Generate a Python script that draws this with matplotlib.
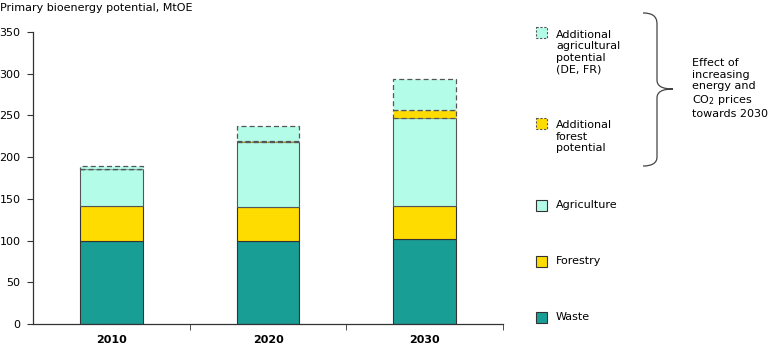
import numpy as np
import matplotlib

matplotlib.use("Agg")
import matplotlib.pyplot as plt
from matplotlib.patches import Rectangle, PathPatch
from matplotlib.path import Path

plt.rcParams["font.family"] = ["DejaVu Sans"]

years = ["2010", "2020", "2030"]
waste = [99, 99, 102]
forestry = [43, 41, 39]
agriculture = [43.5, 78.5, 106]
add_forest = [0, 1, 9.5]
add_agri = [4, 18, 37]

yticks = [0, 50, 100, 150, 200, 250, 300, 350]
ylabel = "Primary bioenergy potential, MtOE"
note = "Effect of\nincreasing\nenergy and\nCO$_2$ prices\ntowards 2030"

c_waste = "#199e95"
c_forest = "#ffdc00"
c_agri = "#b3fce8"
edge = "#333333"
dash_edge = "#555555"

fig = plt.figure(figsize=(7.68, 3.44), dpi=100)
W, H = 768, 344
ax = fig.add_axes([33 / W, 1 - 324 / H, (503 - 33) / W, (324 - 32) / H])

x = np.arange(len(years))
bw = 0.4
b0 = np.zeros(len(years))
ax.bar(x, waste, bw, bottom=b0, color=c_waste, edgecolor=edge, lw=0.8)
b1 = b0 + np.array(waste)
ax.bar(x, forestry, bw, bottom=b1, color=c_forest, edgecolor=edge, lw=0.8)
b2 = b1 + np.array(forestry)
ax.bar(x, agriculture, bw, bottom=b2, color=c_agri, edgecolor="#555555", lw=0.8)
b3 = b2 + np.array(agriculture)
ax.bar(x, add_forest, bw, bottom=b3, color=c_forest, edgecolor=dash_edge,
       lw=0.9, linestyle=(0, (4, 2.5)))
b4 = b3 + np.array(add_forest)
ax.bar(x, add_agri, bw, bottom=b4, color=c_agri, edgecolor=dash_edge,
       lw=0.9, linestyle=(0, (4, 2.5)))

ax.set_xlim(-0.5, 2.5)
ax.set_ylim(0, 350)
ax.set_yticks(yticks)
ax.set_xticks(x)
ax.set_xticklabels(years, fontsize=8, fontweight="bold")
ax.set_xticks([0.5, 1.5, 2.5], minor=True)
ax.tick_params(axis="x", which="major", length=0, pad=8)
ax.tick_params(axis="x", which="minor", length=4, color="#333333", direction="out")
ax.tick_params(axis="y", length=4, color="#333333", labelsize=8, pad=5)
for s in ["top", "right"]:
    ax.spines[s].set_visible(False)
for s in ["left", "bottom"]:
    ax.spines[s].set_color("#333333")
    ax.spines[s].set_linewidth(0.9)

# overlay in pixel coordinates for title, legend and brace
ov = fig.add_axes([0, 0, 1, 1], facecolor="none")
ov.set_xlim(0, W)
ov.set_ylim(H, 0)
ov.axis("off")

ov.text(0, 8, ylabel, fontsize=8, va="center", ha="left")

leg = [
    (32, 52, c_agri, True, "Additional\nagricultural\npotential\n(DE, FR)"),
    (123, 136.5, c_forest, True, "Additional\nforest\npotential"),
    (205, 205, c_agri, False, "Agriculture"),
    (261, 261, c_forest, False, "Forestry"),
    (317, 317, c_waste, False, "Waste"),
]
for py, ty, col, dashed, lab in leg:
    ov.add_patch(Rectangle((536, py - 5.5), 11, 11, facecolor=col,
                           edgecolor=dash_edge if dashed else edge, lw=0.8,
                           linestyle=(0, (2, 1.5)) if dashed else "-"))
    ov.text(556, ty, lab, fontsize=8, va="center", ha="left", linespacing=1.2)

# curly brace
verts = [
    (643, 13), (652, 13), (657, 16), (657, 24),
    (657, 80),
    (657, 86), (662, 89), (673, 89),
    (662, 89), (657, 92), (657, 98),
    (657, 157),
    (657, 163), (652, 166), (643, 166),
]
codes = [Path.MOVETO, Path.CURVE4, Path.CURVE4, Path.CURVE4,
         Path.LINETO,
         Path.CURVE4, Path.CURVE4, Path.CURVE4,
         Path.CURVE4, Path.CURVE4, Path.CURVE4,
         Path.LINETO,
         Path.CURVE4, Path.CURVE4, Path.CURVE4]
ov.add_patch(PathPatch(Path(verts, codes), facecolor="none", edgecolor="#444444", lw=0.9))

ov.text(692, 88.5, note, fontsize=8, va="center", ha="left", linespacing=1.2)

fig.savefig("out.png", dpi=100)
